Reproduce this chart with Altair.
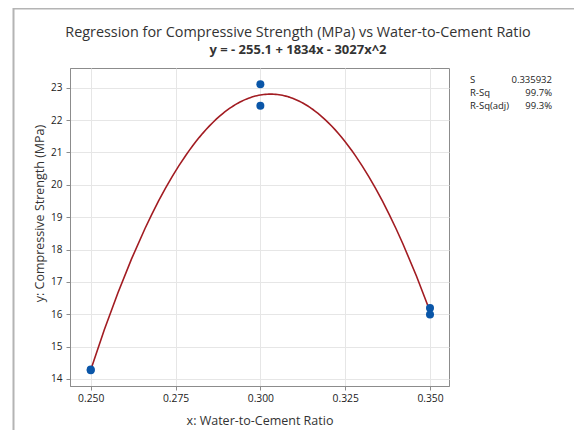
import altair as alt
import pandas as pd

# Data
x_ratio = [0.25, 0.25, 0.30, 0.30, 0.35, 0.35]
y_strength = [14.29, 14.27, 23.11, 22.44, 16.19, 15.99]

stat_labels = ["S", "R-Sq", "R-Sq(adj)"]
stat_values = ["0.335932", "99.7%", "99.3%"]

title_text = "Regression for Compressive Strength (MPa) vs Water-to-Cement Ratio"
subtitle_text = "y = - 255.1 + 1834x - 3027x^2"
x_ticks = [0.25, 0.275, 0.30, 0.325, 0.35]
y_ticks = [14, 15, 16, 17, 18, 19, 20, 21, 22, 23]

FONT = "Open Sans"
df = pd.DataFrame({"x": x_ratio, "y": y_strength})

xs = alt.X("x:Q", title="x: Water-to-Cement Ratio",
           scale=alt.Scale(domain=[0.24389, 0.3556], nice=False, zero=False),
           axis=alt.Axis(values=x_ticks, format=".3f", labelFontSize=10.3,
                         titleFontSize=12.5, titleFontWeight="normal",
                         titleColor="#333", labelColor="#222",
                         titleY=34, titleBaseline="middle"))
ys = alt.Y("y:Q", title="y: Compressive Strength (MPa)",
           scale=alt.Scale(domain=[13.783, 23.609], nice=False, zero=False),
           axis=alt.Axis(values=y_ticks, labelFontSize=10, labelPadding=4,
                         titleFontSize=12.5, titleFontWeight="normal",
                         titleColor="#333", labelColor="#222",
                         titleX=-31, titleY=145, titleAngle=270,
                         titleAlign="center", titleBaseline="middle"))

points = alt.Chart(df).mark_circle(size=64, opacity=1, color="#0a56a8").encode(x=xs, y=ys)

fit = alt.Chart(df).transform_regression(
    "x", "y", method="poly", order=2, extent=[0.25, 0.35]
).mark_line(color="#a21c22", strokeWidth=1.6).encode(x=xs, y=ys)

title = alt.Chart(pd.DataFrame({"t": [title_text]})).mark_text(
    font=FONT, fontSize=14.4, color="#333", align="center", baseline="middle"
).encode(x=alt.value(228), y=alt.value(-35), text="t:N")

subtitle = alt.Chart(pd.DataFrame({"t": [subtitle_text]})).mark_text(
    font=FONT, fontSize=13, fontWeight="bold", color="#333", align="center", baseline="middle"
).encode(x=alt.value(228), y=alt.value(-18), text="t:N")

stat_rows_y = [12, 25, 38]
stat_layers = []
for lab, val, yy in zip(stat_labels, stat_values, stat_rows_y):
    d = pd.DataFrame({"label": [lab], "value": [val]})
    stat_layers.append(alt.Chart(d).mark_text(
        font=FONT, fontSize=9.5, color="#222", align="left", baseline="middle"
    ).encode(x=alt.value(400), y=alt.value(yy), text="label:N"))
    stat_layers.append(alt.Chart(d).mark_text(
        font=FONT, fontSize=9.5, color="#222", align="right", baseline="middle"
    ).encode(x=alt.value(482), y=alt.value(yy), text="value:N"))

frame_top = alt.Chart(pd.DataFrame({"a": [0]})).mark_rule(color="#b4b4b4", strokeWidth=2).encode(
    x=alt.value(-57), x2=alt.value(520), y=alt.value(-59.5))
frame_left = alt.Chart(pd.DataFrame({"a": [0]})).mark_rule(color="#b4b4b4", strokeWidth=2).encode(
    x=alt.value(-56.5), y=alt.value(-60), y2=alt.value(380))

chart = alt.layer(
    frame_top, frame_left, fit, points, title, subtitle, *stat_layers
).properties(
    width=379, height=318,
    autosize=alt.AutoSizeParams(type="none"),
    padding={"left": 62, "top": 60, "right": 125, "bottom": 44},
).configure_view(
    stroke="#8c8c8c", strokeWidth=1
).configure_axis(
    labelFont=FONT, titleFont=FONT, gridColor="#e6e6e6", domainColor="#8c8c8c",
    tickColor="#8c8c8c", tickSize=4, labelPadding=3
)

chart.save("out.html", embed_options={"renderer": "svg", "actions": False})
